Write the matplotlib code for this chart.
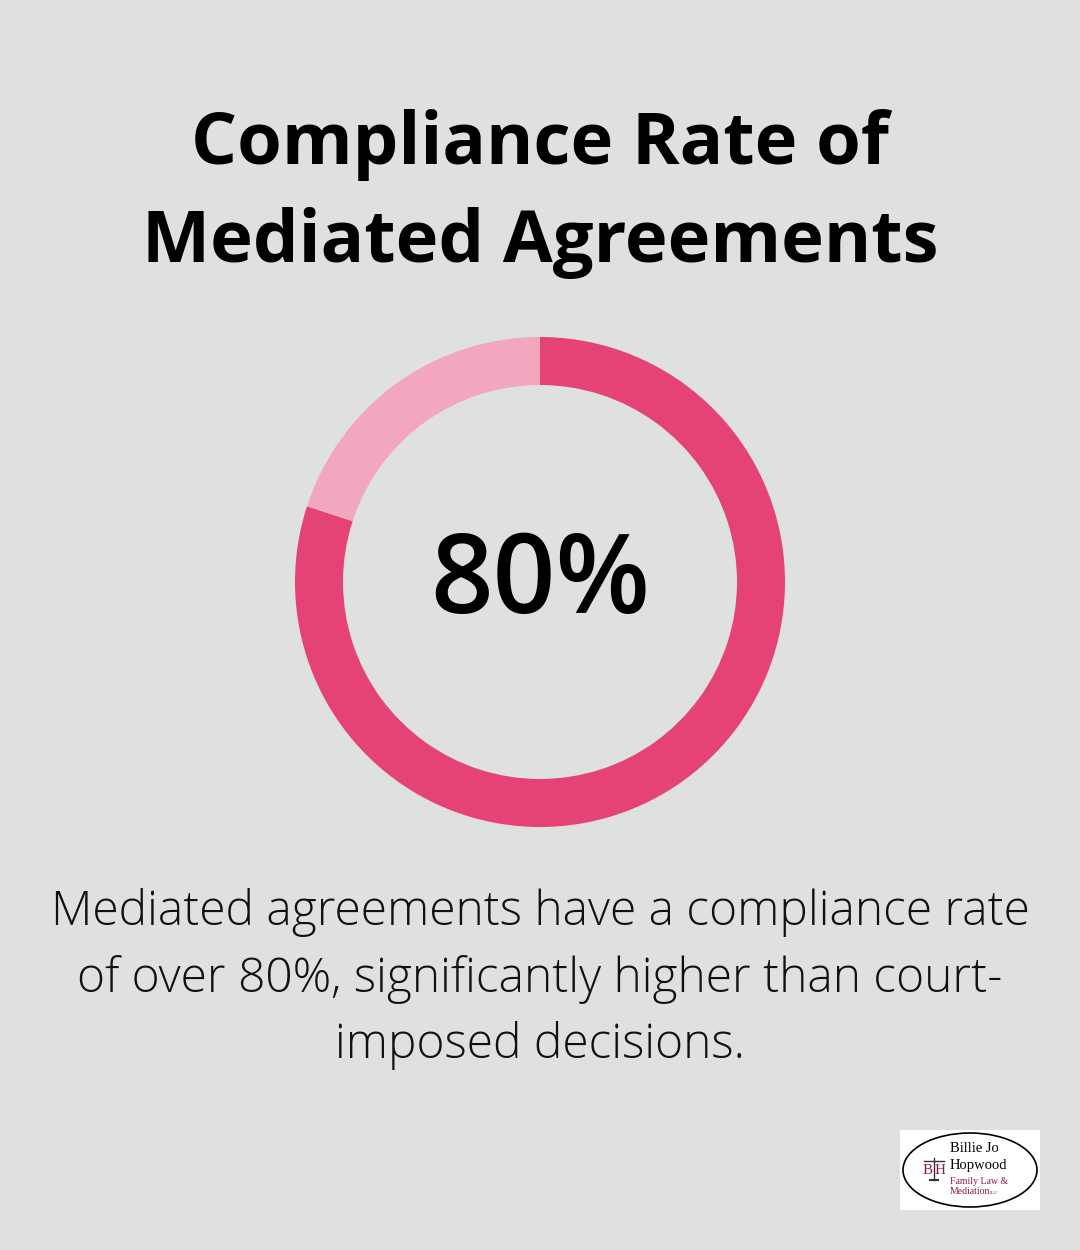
import matplotlib
matplotlib.use("Agg")
import matplotlib.pyplot as plt
from matplotlib.patches import Rectangle, Ellipse

labels = ["Compliant", "Other"]
values = [80, 20]
colors = ["#E54375", "#F2A7BE"]
title = "Compliance Rate of\nMediated Agreements"
center_label = "80%"
caption = "Mediated agreements have a compliance rate\nof over 80%, significantly higher than court-\nimposed decisions."
bg = "#DFE1E0"

W, H = 1080, 1250
fig = plt.figure(figsize=(W / 100, H / 100), dpi=100, facecolor=bg)

# title
fig.text(540 / W, 1 - 194 / H, title, ha="center", va="center", fontsize=52,
         fontweight="bold", family="Open Sans", linespacing=1.47, color="#000000")

# donut
R = 245
ax = fig.add_axes([(540 - R) / W, 1 - (582 + R) / H, 2 * R / W, 2 * R / H])
ax.pie(values, colors=colors, startangle=90, counterclock=False, radius=1,
       wedgeprops=dict(width=48 / R, edgecolor="none"))
ax.set_xlim(-1, 1)
ax.set_ylim(-1, 1)
ax.set_aspect("equal")
ax.axis("off")
ax.text(0, -0.01, center_label, ha="center", va="center", fontsize=79,
        fontweight="semibold", family="Open Sans", color="#000000")

# caption
fig.text(540 / W, 1 - 979 / H, caption, ha="center", va="center", fontsize=34.5,
         fontweight="light", family="Open Sans", linespacing=1.48, color="#111111")

# logo
lax = fig.add_axes([900 / W, 1 - 1210 / H, 140 / W, 80 / H])
lax.set_xlim(0, 140)
lax.set_ylim(0, 80)
lax.axis("off")
lax.add_patch(Rectangle((0, 0), 140, 80, facecolor="white", edgecolor="none"))
lax.add_patch(Ellipse((70, 40), 134, 74, facecolor="white", edgecolor="black", lw=1.2))
lax.text(50, 62, "Billie Jo", fontsize=10.5, family="Liberation Serif", va="center")
lax.text(50, 45, "Hopwood", fontsize=10.5, family="Liberation Serif", va="center")
lax.text(50, 28, "Family Law &", fontsize=7, family="Liberation Serif", va="center", color="#8B1A4A")
lax.text(50, 18, "Mediation", fontsize=7, family="Liberation Serif", va="center", color="#8B1A4A")
lax.text(90, 17, "PLLC", fontsize=2.5, family="Liberation Serif", va="center", color="#8B1A4A")
lax.text(28, 40, "B", fontsize=11, family="Liberation Serif", va="center", ha="center", color="#8B1A4A")
lax.text(40, 40, "H", fontsize=11, family="Liberation Serif", va="center", ha="center", color="#8B1A4A")
lax.plot([34, 34], [30, 52], color="#333333", lw=1)
lax.plot([24, 44], [49, 49], color="#333333", lw=1)
lax.plot([30, 38], [30, 30], color="#333333", lw=1.5)

fig.savefig("out.png", dpi=100, facecolor=bg)
